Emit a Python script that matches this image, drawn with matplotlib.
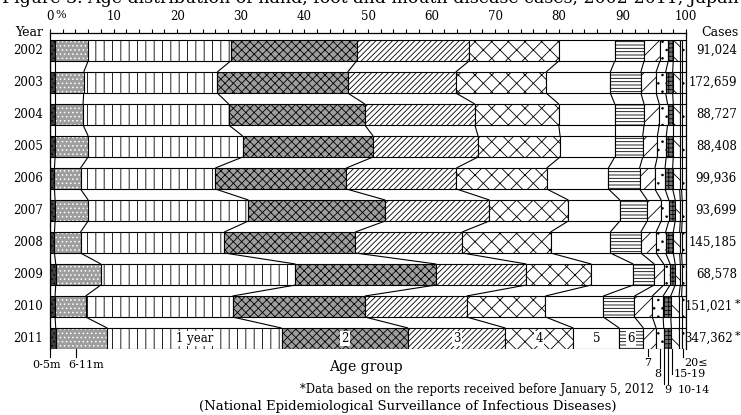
import numpy as np
import matplotlib.pyplot as plt
from matplotlib.lines import Line2D

plt.rcParams['font.family'] = ['DejaVu Serif']
plt.rcParams['hatch.linewidth'] = 0.6

W, H = 741, 415

years = ["2002", "2003", "2004", "2005", "2006", "2007", "2008", "2009", "2010", "2011"]
cases = ["91,024", "172,659", "88,727", "88,408", "99,936",
         "93,699", "145,185", "68,578", "151,021", "347,362"]
starred = [False, False, False, False, False, False, False, False, True, True]

age_groups = ["0-5m", "6-11m", "1 year", "2", "3", "4", "5", "6",
              "7", "8", "9", "10-14", "15-19", "20≤"]

# share of cases (%) by age group, one list per year
p2002 = [0.8, 5.2, 22.4, 19.8, 17.7, 14.1, 8.8, 4.6, 2.5, 1.3, 0.8, 1.0, 0.3, 0.7]
p2003 = [0.8, 4.5, 21.0, 20.5, 17.0, 14.2, 10.1, 4.8, 2.4, 1.5, 1.1, 1.1, 0.3, 0.7]
p2004 = [0.8, 4.4, 22.9, 21.4, 17.3, 13.2, 8.8, 4.6, 2.4, 1.3, 0.9, 1.0, 0.3, 0.7]
p2005 = [0.8, 5.2, 24.3, 20.5, 16.5, 12.9, 8.6, 4.4, 2.3, 1.4, 1.1, 1.0, 0.3, 0.7]
p2006 = [0.7, 4.1, 21.2, 20.6, 17.3, 14.2, 9.7, 4.9, 2.4, 1.6, 1.2, 1.1, 0.3, 0.7]
p2007 = [0.8, 5.2, 25.2, 21.5, 16.4, 12.4, 8.1, 4.3, 2.2, 1.2, 1.0, 0.8, 0.3, 0.6]
p2008 = [0.7, 4.1, 22.6, 20.6, 16.8, 13.9, 9.4, 4.8, 2.4, 1.5, 1.2, 1.0, 0.3, 0.7]
p2009 = [0.9, 7.1, 30.6, 22.1, 14.2, 10.2, 6.6, 3.3, 1.5, 1.0, 0.8, 0.8, 0.3, 0.6]
p2010 = [0.8, 4.8, 23.1, 20.8, 16.0, 12.4, 9.1, 4.9, 2.8, 1.7, 1.2, 1.3, 0.4, 0.7]
p2011 = [0.9, 8.1, 27.4, 19.9, 15.3, 10.7, 7.2, 3.8, 2.0, 1.2, 1.2, 1.2, 0.4, 0.7]

shares = np.array([p2002, p2003, p2004, p2005, p2006,
                   p2007, p2008, p2009, p2010, p2011])

# fill colour, hatch colour, hatch for each age group
styles = [
    ("0.25", "black", "...."),
    ("0.62", "white", "...."),
    ("white", "black", "||"),
    ("0.62", "black", "xxxx"),
    ("white", "black", "//////"),
    ("white", "black", "xx"),
    ("white", "white", ""),
    ("white", "black", "-----"),
    ("white", "black", "//"),
    ("white", "black", ".."),
    ("0.45", "black", "++++"),
    ("white", "black", "\\\\"),
    ("white", "white", ""),
    ("white", "black", ".."),
]


def fx(x):
    return x / W


def fy(y):
    return 1 - y / H


n = len(years)
h = 0.656
y = np.arange(n)

fig = plt.figure(figsize=(W / 100, H / 100), dpi=100)
ax = fig.add_axes([fx(50), fy(349), fx(686) - fx(50), fy(33) - fy(349)])

left = np.zeros(n)
for j in range(len(age_groups)):
    w = shares[:, j]
    face, hc, hatch = styles[j]
    ax.barh(y, w, left=left, height=h, color=face, edgecolor=hc,
            hatch=hatch if hatch else None, linewidth=0)
    ax.barh(y, w, left=left, height=h, fill=False, edgecolor="black", linewidth=0.8)
    left = left + w

# lines joining the same boundary between neighbouring years
cum = np.hstack([np.zeros((n, 1)), np.cumsum(shares, axis=1)])
for i in range(n - 1):
    for j in range(cum.shape[1]):
        ax.plot([cum[i, j], cum[i + 1, j]], [i + h / 2, i + 1 - h / 2],
                color="black", lw=0.8, solid_capstyle="butt")

ax.set_xlim(0, 100)
ax.set_ylim(n - 1 + h / 2, -h / 2 - 7 / 32)
ax.xaxis.tick_top()
ax.set_xticks(np.arange(0, 101, 10))
ax.set_xticks(np.arange(0, 101, 2), minor=True)
ax.set_xticklabels([str(v) for v in range(0, 101, 10)])
ax.tick_params(axis="x", which="both", direction="out", length=3, width=0.8,
               labelsize=8.5, pad=4)
ax.set_yticks([])
ax.spines["bottom"].set_visible(False)
for s in ["top", "left", "right"]:
    ax.spines[s].set_linewidth(0.9)

# numbers inside the 2011 bar
last = n - 1
mids = cum[last, :-1] + shares[last] / 2
for j in range(2, 8):
    ax.text(mids[j], last, age_groups[j], ha="center", va="center", fontsize=8.5,
            bbox=dict(boxstyle="square,pad=0.1", fc="white", ec="none"))

fig.text(fx(61), fy(15), "%", ha="center", va="center", fontsize=8)
fig.text(fx(43), fy(33), "Year", ha="right", va="center", fontsize=9)
fig.text(fx(739), fy(33), "Cases", ha="right", va="center", fontsize=9)

for i in range(n):
    yc = 50.5 + 32 * i
    fig.text(fx(43), fy(yc), years[i], ha="right", va="center", fontsize=8.5)
    if starred[i]:
        fig.text(fx(733), fy(yc), cases[i], ha="right", va="center", fontsize=8.5)
        fig.text(fx(735), fy(yc - 3), "*", ha="left", va="center", fontsize=8)
    else:
        fig.text(fx(737), fy(yc), cases[i], ha="right", va="center", fontsize=8.5)

# callouts under the 2011 bar: label, line x, line end, text x, text y
callouts = [
    ("0-5m", 50, 357, 47, 365),
    ("6-11m", 76, 357, 86, 365),
    ("7", 648, 356, 648, 363),
    ("8", 660, 368, 658, 374),
    ("9", 664, 384, 668, 390),
    ("10-14", 668, 384, 694, 390),
    ("15-19", 672, 374, 690, 374),
    ("20≤", 683, 357, 696, 363),
]
for lab, lx, lend, tx, ty in callouts:
    fig.add_artist(Line2D([fx(lx), fx(lx)], [fy(349), fy(lend)], color="black",
                          lw=0.8, transform=fig.transFigure))
    fig.text(fx(tx), fy(ty), lab, ha="center", va="center", fontsize=8)

fig.text(fx(370), fy(3),
         "Figure 3. Age distribution of hand, foot and mouth disease cases, 2002-2011, Japan",
         ha="center", va="baseline", fontsize=12.5)
fig.text(fx(366), fy(367), "Age group", ha="center", va="center", fontsize=10)
fig.text(fx(477), fy(389), "*Data based on the reports received before January 5, 2012",
         ha="center", va="center", fontsize=8.4)
fig.text(fx(408), fy(406), "(National Epidemiological Surveillance of Infectious Diseases)",
         ha="center", va="center", fontsize=9.5)

fig.savefig("out.png", dpi=100)
